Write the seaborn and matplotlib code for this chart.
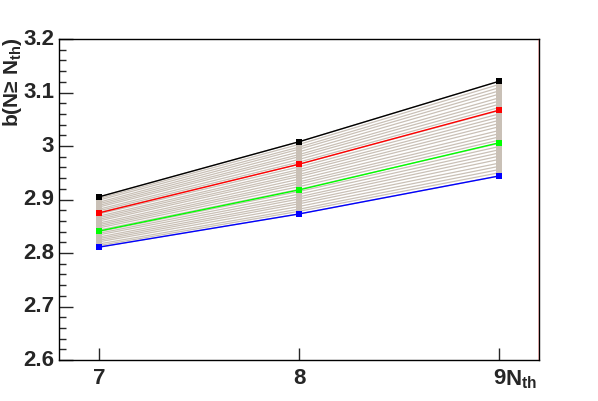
import numpy as np
import pandas as pd
import matplotlib
matplotlib.use("Agg")
import matplotlib.pyplot as plt
import seaborn as sns
from matplotlib.ticker import MultipleLocator

# data
n_th = [7, 8, 9]
b_black = [2.905, 3.008, 3.121]
b_red = [2.875, 2.966, 3.067]
b_green = [2.841, 2.918, 3.006]
b_blue = [2.811, 2.873, 2.944]

# grey band of curves, values at N_th = 7, 8, 9
band_7 = [2.811, 2.814, 2.817, 2.821, 2.824, 2.827, 2.830, 2.834, 2.837, 2.840,
          2.843, 2.847, 2.850, 2.853, 2.856, 2.860, 2.863, 2.866, 2.869, 2.873,
          2.876, 2.879, 2.882, 2.886, 2.889, 2.892, 2.895, 2.899, 2.902, 2.905]
band_8 = [2.873, 2.878, 2.882, 2.887, 2.892, 2.896, 2.901, 2.905, 2.910, 2.915,
          2.919, 2.924, 2.929, 2.933, 2.938, 2.943, 2.947, 2.952, 2.956, 2.961,
          2.966, 2.970, 2.975, 2.980, 2.984, 2.989, 2.994, 2.998, 3.003, 3.008]
band_9 = [2.944, 2.950, 2.956, 2.962, 2.968, 2.975, 2.981, 2.987, 2.993, 2.999,
          3.005, 3.011, 3.017, 3.023, 3.029, 3.036, 3.042, 3.048, 3.054, 3.060,
          3.066, 3.072, 3.078, 3.084, 3.090, 3.097, 3.103, 3.109, 3.115, 3.121]

y_ticks = [2.6, 2.7, 2.8, 2.9, 3.0, 3.1, 3.2]
y_tick_labels = ["2.6", "2.7", "2.8", "2.9", "3", "3.1", "3.2"]

sns.set_style("white")
plt.rcParams['font.family'] = ['Liberation Sans', 'DejaVu Sans']

fig = plt.figure(figsize=(5.98, 4.01), dpi=100)
ax = fig.add_axes([0.0987, 0.1022, 0.8027, 0.8005])

# band
rows = []
for i in range(len(band_7)):
    for x, v in zip(n_th, [band_7[i], band_8[i], band_9[i]]):
        rows.append({"N": x, "b": v, "curve": i})
band_df = pd.DataFrame(rows)
sns.lineplot(data=band_df, x="N", y="b", units="curve", estimator=None,
             color="#c9c0b6", lw=0.9, marker="s", markersize=4,
             markeredgewidth=0, ax=ax, legend=False)

main_df = pd.DataFrame({
    "N": n_th * 4,
    "b": b_black + b_red + b_green + b_blue,
    "set": ["black"] * 3 + ["red"] * 3 + ["green"] * 3 + ["blue"] * 3,
})
palette = {"black": "#000000", "red": "#ff0000", "green": "#00ff00", "blue": "#0000ff"}
sns.lineplot(data=main_df, x="N", y="b", hue="set", palette=palette,
             lw=1.0, marker="s", markersize=5, markeredgewidth=0,
             ax=ax, legend=False)

ax.set_xlim(6.8, 9.2)
ax.set_ylim(2.6, 3.2)
ax.set_xticks(n_th)
ax.yaxis.set_major_locator(MultipleLocator(0.1))
ax.yaxis.set_minor_locator(MultipleLocator(0.02))
ax.set_yticklabels([])
ax.set_xticklabels([])
ax.tick_params(axis="y", which="major", direction="in", length=10, width=1, left=True, right=False)
ax.tick_params(axis="y", which="minor", direction="in", length=5, width=1, left=True, right=False)
ax.tick_params(axis="x", which="major", direction="in", length=9, width=1, bottom=True, top=False)
ax.set_xlabel("")
ax.set_ylabel("")

for s in ax.spines.values():
    s.set_color("black")
    s.set_linewidth(1.0)
ax.axvline(9.2, color="red", lw=1.0, zorder=5)

# tick labels (ROOT style)
for v, t in zip(y_ticks, y_tick_labels):
    ax.text(-0.01, v, t, transform=ax.get_yaxis_transform(), ha="right", va="center",
            fontsize=16, fontweight="bold")
for x in n_th:
    ax.text(x, -0.025, str(x), transform=ax.get_xaxis_transform(), ha="center", va="top",
            fontsize=16, fontweight="bold")

ax.text(9.03, -0.025, r"N$_{\mathregular{th}}$", transform=ax.get_xaxis_transform(),
        ha="left", va="top", fontsize=16, fontweight="bold")
fig.text(0.002, 0.908, "b(N≥ N$_{\\mathregular{th}}$)", rotation=90, ha="left", va="top",
         fontsize=15, fontweight="bold")

fig.savefig("out.png", dpi=100, facecolor="white")
